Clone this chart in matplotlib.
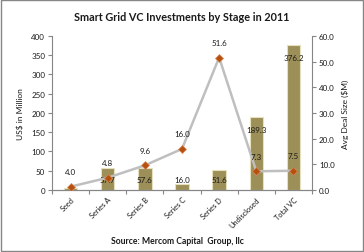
import matplotlib
matplotlib.use("Agg")
import matplotlib.pyplot as plt
from matplotlib.patches import Rectangle

categories = ["Seed", "Series A", "Series B", "Series C", "Series D", "Undisclosed", "Total VC"]
funding = [4.0, 57.7, 57.6, 16.0, 51.6, 189.3, 376.2]
avg_deal = [1.3, 4.8, 9.6, 16.0, 51.6, 7.3, 7.5]
point_labels = ["4.0", "4.8", "9.6", "16.0", "51.6", "7.3", "7.5"]
left_ticks = [0, 50, 100, 150, 200, 250, 300, 350, 400]
right_ticks = [0, 10, 20, 30, 40, 50, 60]

plt.rcParams['font.family'] = ['Lato', 'DejaVu Sans']
gray = '#868686'
txt = '#1a1a1a'

fig = plt.figure(figsize=(3.64, 2.53), dpi=100)
fig.patches.append(Rectangle((0.003, 0.004), 0.994, 0.992, transform=fig.transFigure,
                             fill=False, edgecolor=gray, linewidth=1.0))
ax = fig.add_axes([0.143, 0.245, 0.714, 0.609])
ax2 = ax.twinx()

x = list(range(len(categories)))
bars = ax.bar(x, funding, width=0.36, color='#9C8F58', edgecolor='#E6E0BE', linewidth=0.8, zorder=2)
ax.set_ylim(0, 400)
ax.set_xlim(-0.5, len(categories) - 0.5)
ax.set_yticks(left_ticks)
ax.set_yticklabels([str(t) for t in left_ticks])

for xi, v in zip(x[1:], funding[1:]):
    if v < 100:
        ax.annotate(f"{v:.1f}", (xi, 0), xytext=(0, 7.5), textcoords='offset points',
                    ha='center', va='center', fontsize=5.8, color=txt, zorder=5)
    else:
        ax.annotate(f"{v:.1f}", (xi, v), xytext=(0, -9), textcoords='offset points',
                    ha='center', va='center', fontsize=5.8, color=txt, zorder=5)

ax2.plot(x, avg_deal, color='#BFBFBF', linewidth=1.8, zorder=3)
ax2.plot(x, avg_deal, linestyle='none', marker='D', markersize=4.2,
         markerfacecolor='#B5500F', markeredgecolor='#D9895A', markeredgewidth=0.5, zorder=4)
ax2.set_ylim(0, 60)
ax2.set_yticks(right_ticks)
ax2.set_yticklabels([f"{t:.1f}" for t in right_ticks])
for xi, v, lab in zip(x, avg_deal, point_labels):
    ax2.annotate(lab, (xi, v), xytext=(0, 10.8), textcoords='offset points',
                 ha='center', va='center', fontsize=5.8, color=txt, zorder=5)

for a in (ax, ax2):
    a.spines['top'].set_visible(False)
    for s in ('left', 'right', 'bottom'):
        a.spines[s].set_color(gray)
        a.spines[s].set_linewidth(0.8)
    a.tick_params(axis='y', colors=gray, labelcolor=txt, labelsize=5.8, length=3, width=0.8, pad=2)

ax.spines['right'].set_visible(False)
ax2.spines['left'].set_visible(False)

ax.set_xticks(x)
ax.set_xticklabels(categories, rotation=45, ha='right', rotation_mode='anchor', fontsize=5.3, color=txt)
ax.tick_params(axis='x', which='major', length=0, pad=4)
ax.set_xticks([i - 0.5 for i in range(len(categories) + 1)], minor=True)
ax.tick_params(axis='x', which='minor', length=3, width=0.8, color=gray)

ax.set_ylabel("US$ in Million", fontsize=6, color=txt, labelpad=5)
ax2.set_ylabel("Avg Deal Size ($M)", fontsize=6, color=txt, labelpad=5)

fig.text(0.5, 0.932, "Smart Grid VC Investments by Stage in 2011", ha='center', va='center',
         fontsize=7.8, fontweight='bold', color=txt)
fig.text(0.487, 0.047, "Source: Mercom Capital  Group, llc", ha='center', va='center',
         fontsize=6.2, fontweight='bold', color=txt)

fig.savefig("out.png", dpi=100)
